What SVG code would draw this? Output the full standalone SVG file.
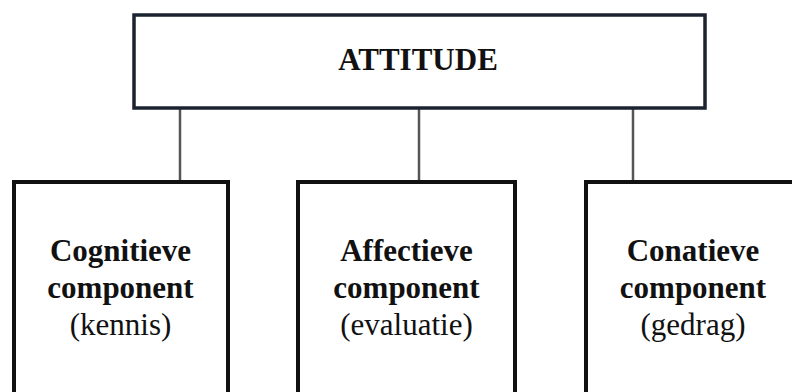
<svg xmlns="http://www.w3.org/2000/svg" width="792" height="392" viewBox="0 0 792 392">
<style>
.box{fill:#fff;stroke:#111;stroke-width:4}
.top{fill:#fff;stroke:#1b2230;stroke-width:3.5}
.conn{stroke:#555;stroke-width:2.5;fill:none}
.b{font-family:"Liberation Serif","Times New Roman",serif;font-weight:bold;font-size:31px;fill:#111;text-anchor:middle}
.r{font-family:"Liberation Serif","Times New Roman",serif;font-size:31px;fill:#111;text-anchor:middle}
</style>
<rect width="792" height="392" fill="#fff"/>
<g id="connectors">
<line class="conn" x1="180" y1="108" x2="180" y2="182"/>
<line class="conn" x1="419" y1="108" x2="419" y2="182"/>
<line class="conn" x1="633" y1="108" x2="633" y2="182"/>
</g>
<g id="attitude">
<rect class="top" x="134" y="15" width="571" height="93"/>
<text class="b" x="418" y="70">ATTITUDE</text>
</g>
<g id="cognitieve">
<rect class="box" x="14" y="182" width="214" height="230"/>
<text class="b" x="120.5" y="261">Cognitieve</text>
<text class="b" x="120.5" y="298">component</text>
<text class="r" x="120.5" y="335">(kennis)</text>
</g>
<g id="affectieve">
<rect class="box" x="298" y="182" width="217" height="230"/>
<text class="b" x="406.5" y="261">Affectieve</text>
<text class="b" x="406.5" y="298">component</text>
<text class="r" x="406.5" y="335">(evaluatie)</text>
</g>
<g id="conatieve">
<rect class="box" x="586" y="182" width="230" height="230"/>
<text class="b" x="693" y="261">Conatieve</text>
<text class="b" x="693" y="298">component</text>
<text class="r" x="693" y="335">(gedrag)</text>
</g>
</svg>
